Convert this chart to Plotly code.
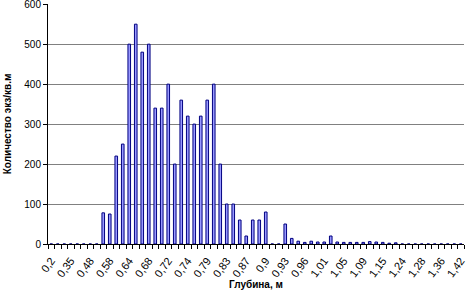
import plotly.graph_objects as go

depths = ["0,2", "0,25", "0,3", "0,35", "0,4", "0,45", "0,48", "0,5", "0,55", "0,58",
          "0,6", "0,62", "0,64", "0,65", "0,66", "0,68", "0,69", "0,7", "0,72", "0,725",
          "0,73", "0,74", "0,75", "0,77", "0,79", "0,8", "0,81", "0,83", "0,84", "0,85",
          "0,87", "0,88", "0,89", "0,9", "0,91", "0,92", "0,93", "0,94", "0,95", "0,96",
          "0,97", "0,99", "1,01", "1,02", "1,03", "1,05", "1,06", "1,07", "1,09", "1,1",
          "1,12", "1,15", "1,18", "1,2", "1,24", "1,25", "1,26", "1,28", "1,3", "1,32",
          "1,36", "1,38", "1,4", "1,42"]

counts = [0, 0, 0, 0, 0, 0, 0, 0, 78, 75,
          220, 250, 500, 550, 480, 500, 340, 340, 400, 200,
          360, 320, 300, 320, 360, 400, 200, 100, 100, 60,
          20, 60, 60, 80, 0, 0, 50, 14, 7, 4,
          7, 5, 5, 20, 5, 4, 4, 4, 4, 6,
          5, 4, 2, 3, 0, 0, 0, 0, 0, 0,
          0, 0, 0, 0]

y_ticks = [0, 100, 200, 300, 400, 500, 600]

font = "Arial, Liberation Sans, sans-serif"

fig = go.Figure(go.Bar(
    x=depths, y=counts,
    marker=dict(color="#9999FF", line=dict(color="#000080", width=1)),
))

fig.update_layout(
    width=466, height=293,
    margin=dict(l=48, r=2, t=4, b=49),
    paper_bgcolor="white", plot_bgcolor="white",
    bargap=0.6,
    showlegend=False,
    font=dict(family=font, size=10, color="black"),
    annotations=[dict(
        text="<b>Глубина, м</b>", xref="paper", yref="paper",
        x=0.5, y=-0.168, xanchor="center", yanchor="middle",
        showarrow=False, font=dict(family=font, size=10, color="black"),
    )],
)

fig.update_xaxes(
    type="category",
    categoryorder="array", categoryarray=depths,
    tickmode="linear", tick0=0, dtick=1, ticklabelstep=3,
    tickson="boundaries",
    ticks="outside", ticklen=4, tickcolor="black",
    tickangle=-54,
    ticklabelstandoff=5,
    tickfont=dict(family=font, size=11, color="black"),
    showline=True, linecolor="black", linewidth=1,
    showgrid=False,
    automargin=False,
)

fig.update_yaxes(
    range=[0, 600.5],
    tickmode="array", tickvals=y_ticks,
    ticks="outside", ticklen=4, tickcolor="black",
    tickfont=dict(family=font, size=10, color="black"),
    ticklabeloverflow="allow",
    showline=True, linecolor="black", linewidth=1,
    showgrid=True, gridcolor="#808080", gridwidth=1,
    zeroline=False,
    automargin=False,
    title=dict(text="<b>Количество экз/кв.м</b>", font=dict(family=font, size=10), standoff=10),
)

fig.write_html("out.html", config={"displayModeBar": False},
               post_script="document.body.style.margin='0';")
